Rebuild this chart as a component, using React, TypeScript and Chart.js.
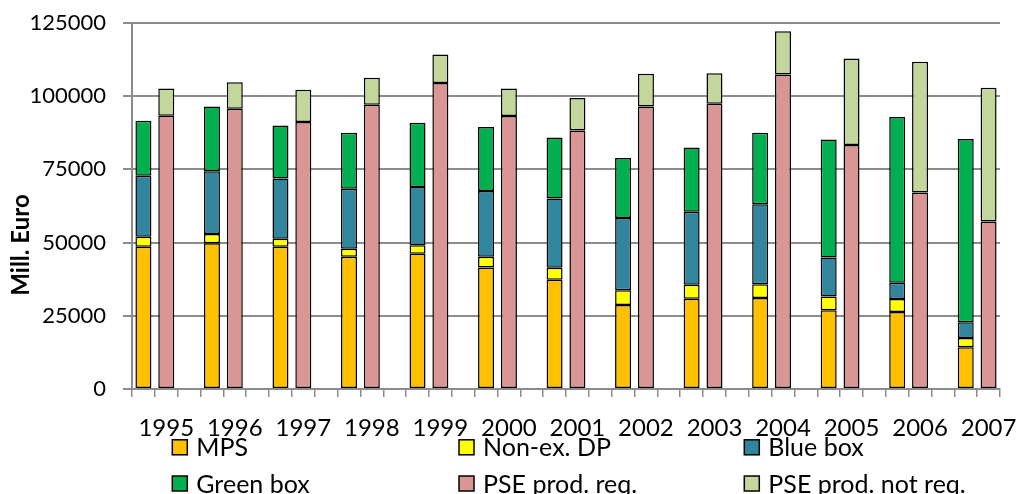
import React, { useEffect, useRef } from "react";
import { Chart, registerables } from "chart.js";

Chart.register(...registerables);

const years = ["1995", "1996", "1997", "1998", "1999", "2000", "2001", "2002", "2003", "2004", "2005", "2006", "2007"];
const yTicks = [0, 25000, 50000, 75000, 100000, 125000];

const mps = [48600, 49800, 48600, 45200, 46200, 41500, 37300, 28700, 30800, 31100, 26900, 26300, 14300];
const nonExDP = [3400, 3100, 2700, 2700, 2900, 3700, 4100, 5000, 4800, 4700, 4700, 4400, 3100];
const blueBox = [20800, 21500, 20600, 20500, 19900, 22400, 23700, 24700, 24900, 27300, 13300, 5600, 5400];
const greenBox = [18800, 22100, 18100, 19100, 21900, 21900, 20800, 20500, 22000, 24400, 40300, 56600, 62600];
const pseReq = [93300, 95700, 91200, 97100, 104500, 93200, 88300, 96500, 97400, 107400, 83300, 67100, 57200];
const pseNotReq = [9300, 9100, 11000, 9200, 9700, 9400, 11100, 11200, 10400, 14800, 29600, 44700, 45700];

const seriesNames = ["MPS", "Non-ex. DP", "Blue box", "Green box", "PSE prod. req.", "PSE prod. not req."];
const seriesColors = ["#FFC000", "#FFFF00", "#31859C", "#00B050", "#D99694", "#C3D69B"];

const FONT = "Lato, 'Open Sans', sans-serif";

// 3 slots per year (stack 1, stack 2, gap), trailing gap dropped
const nSlots = years.length * 3 - 1;
const slotLabels: string[] = Array.from({ length: nSlots }, (_, i) => (i % 3 === 1 ? years[(i - 1) / 3] : ""));

function toSlots(values: number[], offset: number): (number | null)[] {
  const arr: (number | null)[] = new Array(nSlots).fill(null);
  values.forEach((v, i) => {
    arr[i * 3 + offset] = v;
  });
  return arr;
}

const overlayPlugin = {
  id: "overlay",
  afterDraw(chart: any) {
    const ctx = chart.ctx;
    ctx.save();
    // y-axis title
    ctx.translate(21, 245);
    ctx.rotate(-Math.PI / 2);
    ctx.font = `bold 24px ${FONT}`;
    ctx.fillStyle = "#000";
    ctx.textAlign = "center";
    ctx.textBaseline = "middle";
    ctx.fillText("Mill. Euro", 0, 0);
    ctx.restore();

    // legend
    ctx.save();
    const colX = [172.3, 459, 744.3];
    const rowY = [447.3, 483.5];
    ctx.font = `25px ${FONT}`;
    ctx.textAlign = "left";
    ctx.textBaseline = "middle";
    chart.data.datasets.forEach((ds: any, i: number) => {
      const x = colX[i % 3];
      const y = rowY[Math.floor(i / 3)];
      ctx.fillStyle = ds.backgroundColor;
      ctx.fillRect(x, y - 7.5, 15, 15);
      ctx.strokeStyle = "#000";
      ctx.lineWidth = 1.5;
      ctx.strokeRect(x, y - 7.5, 15, 15);
      ctx.fillStyle = "#000";
      ctx.fillText(ds.label, x + 24, y + 1);
    });
    ctx.restore();
  },
};

export default function App() {
  const ref = useRef<HTMLCanvasElement>(null);

  useEffect(() => {
    if (!ref.current) return;
    const sources = [mps, nonExDP, blueBox, greenBox, pseReq, pseNotReq];
    const offsets = [0, 0, 0, 0, 1, 1];
    const chart = new Chart(ref.current, {
      type: "bar",
      data: {
        labels: slotLabels,
        datasets: sources.map((vals, i) => ({
          label: seriesNames[i],
          data: toSlots(vals, offsets[i]),
          backgroundColor: seriesColors[i],
          borderColor: "#000",
          borderWidth: 1.5,
          borderSkipped: false,
          categoryPercentage: 1,
          barPercentage: 0.7,
        })),
      },
      options: {
        responsive: false,
        animation: false,
        layout: { padding: { top: 23, right: 19, left: 0, bottom: 0 } },
        plugins: {
          legend: { display: false },
          tooltip: { enabled: false },
          title: { display: false },
        },
        scales: {
          x: {
            stacked: true,
            offset: true,
            grid: {
              offset: true,
              drawOnChartArea: false,
              drawTicks: true,
              tickLength: 8,
              color: "#8c8c8c",
              lineWidth: 1.5,
            },
            border: { color: "#8c8c8c", width: 2 },
            ticks: {
              autoSkip: false,
              maxRotation: 0,
              minRotation: 0,
              padding: 17,
              color: "#000",
              font: { family: FONT, size: 24 },
            },
            afterFit: (s: any) => {
              s.height = 105;
              s.paddingLeft = 0;
              s.paddingRight = 0;
            },
          },
          y: {
            stacked: true,
            min: 0,
            max: 125000,
            afterBuildTicks: (s: any) => {
              s.ticks = yTicks.map((v) => ({ value: v }));
            },
            ticks: {
              padding: 17,
              color: "#000",
              font: { family: FONT, size: 22 },
              callback: (v: any) => String(v),
            },
            grid: {
              color: "#8c8c8c",
              lineWidth: 2,
              tickLength: 9,
              drawTicks: true,
            },
            border: { color: "#8c8c8c", width: 2 },
            afterFit: (s: any) => {
              s.width = 132;
              s.paddingTop = 0;
              s.paddingBottom = 0;
            },
          },
        },
      },
      plugins: [overlayPlugin],
    });
    return () => chart.destroy();
  }, []);

  return (
    <div style={{ position: "fixed", left: 0, top: 0, width: 1019, height: 494, background: "#fff" }}>
      <canvas ref={ref} width={1019} height={494} style={{ display: "block" }} />
    </div>
  );
}
